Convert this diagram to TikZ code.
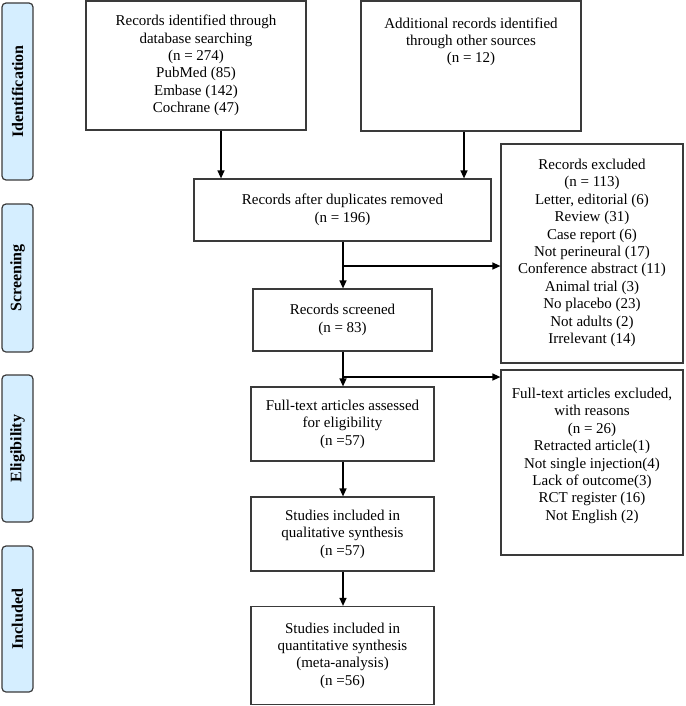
\documentclass[tikz,border=0pt]{standalone}
\usepackage{fontspec}
\setmainfont{Liberation Serif}
\usetikzlibrary{arrows.meta}
\definecolor{sidefill}{HTML}{D5EEFF}
\definecolor{edge}{HTML}{3A3A3A}
\begin{document}
\begin{tikzpicture}[x=1pt,y=-1pt,
  every node/.style={font=\fontsize{15}{17.4}\selectfont},
  box/.style={draw=edge,line width=1.2pt,rectangle,inner sep=0pt,align=center},
  side/.style={draw=edge,fill=sidefill,line width=1.2pt,rounded corners=4pt,inner sep=0pt,
     minimum width=31pt,font=\fontsize{16}{18}\selectfont\bfseries},
  txt/.style={inner sep=0pt,align=center,anchor=north},
  arr/.style={line width=1.3pt,-{Triangle[length=8pt,width=7pt]}},
  ln/.style={line width=1.3pt}]
\useasboundingbox (0,0) rectangle (685,706);
% side labels
\node[side,minimum height=177pt] (sid) at (17.5,91.5) {\rotatebox{90}{Identification}};
\node[side,minimum height=148pt] (ssc) at (17.5,278) {\rotatebox{90}{Screening}};
\node[side,minimum height=147pt] (sel) at (17.5,448.5) {\rotatebox{90}{Eligibility}};
\node[side,minimum height=146pt] (sin) at (17.5,619) {\rotatebox{90}{Included}};
% main boxes
\node[box,minimum width=220pt,minimum height=129pt] (b1) at (196,65.5)
  {Records identified through\\database searching\\(n = 274)\\PubMed (85)\\Embase (142)\\Cochrane (47)};
\node[box,minimum width=220pt,minimum height=130pt] (b2) at (471,66) {};
\node[txt] (t2) at ([yshift=-17pt]b2.north) {Additional records identified\\through other sources\\(n = 12)};
\node[box,minimum width=297pt,minimum height=62pt] (b3) at (342.5,210)
  {Records after duplicates removed\\(n = 196)};
\node[box,minimum width=179pt,minimum height=62pt] (b4) at (342.5,320)
  {Records screened\\(n = 83)};
\node[box,minimum width=183pt,minimum height=74pt] (b5) at (342.5,424)
  {Full-text articles assessed\\for eligibility\\(n =57)};
\node[box,minimum width=183pt,minimum height=74pt] (b6) at (342.5,534)
  {Studies included in\\qualitative synthesis\\(n =57)};
\node[box,minimum width=183pt,minimum height=98pt] (b7) at (342.5,655.5)
  {Studies included in\\quantitative synthesis\\(meta-analysis)\\(n =56)};
\node[box,minimum width=182pt,minimum height=219pt] (e1) at (592,253.5) {};
\node[txt] (te1) at ([yshift=-15.5pt]e1.north)
  {Records excluded\\(n = 113)\\Letter, editorial (6)\\Review (31)\\Case report (6)\\Not perineural (17)\\Conference abstract (11)\\Animal trial (3)\\No placebo (23)\\Not adults (2)\\Irrelevant (14)};
\node[box,minimum width=182pt,minimum height=185pt] (e2) at (592,462.5) {};
\node[txt] (te2) at ([yshift=-18.5pt]e2.north)
  {Full-text articles excluded,\\with reasons\\(n = 26)\\Retracted article(1)\\Not single injection(4)\\Lack of outcome(3)\\RCT register (16)\\Not English (2)};
% connectors
\coordinate (a1) at (221,0);
\coordinate (a2) at (464,0);
\coordinate (c0) at (343,0);
\coordinate (r1) at (343,266);
\coordinate (r2) at (343,377);
\draw[arr] (b1.south -| a1) -- (b3.north -| a1);
\draw[arr] (b2.south -| a2) -- (b3.north -| a2);
\draw[arr] (b3.south -| c0) -- (b4.north -| c0);
\draw[arr] (r1) -- (e1.west |- r1);
\draw[arr] (b4.south -| c0) -- (b5.north -| c0);
\draw[arr] (r2) -- (e2.west |- r2);
\draw[arr] (b5.south -| c0) -- (b6.north -| c0);
\draw[arr] (b6.south -| c0) -- (b7.north -| c0);
\end{tikzpicture}
\end{document}
